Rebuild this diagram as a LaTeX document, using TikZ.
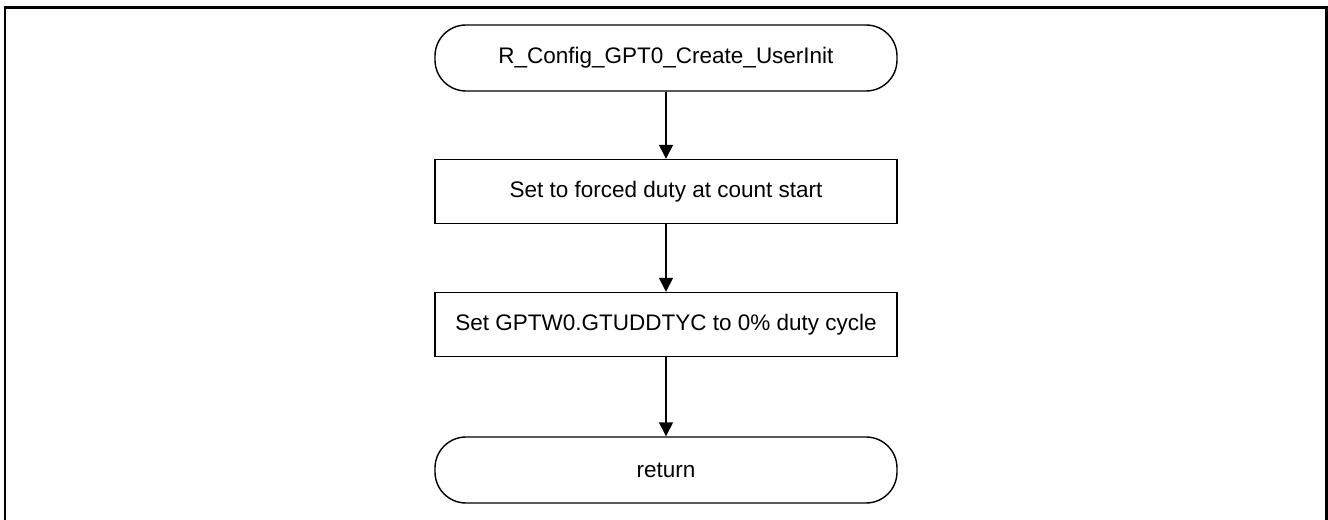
\documentclass[tikz,border=0pt]{standalone}
\usepackage{fontspec}
\setmainfont{Liberation Sans}
\usetikzlibrary{arrows.meta, shapes, positioning}

\begin{document}
\begin{tikzpicture}[
  term/.style={rectangle, rounded corners=0.62cm, draw=black, line width=0.8pt,
              minimum width=9.24cm, minimum height=1.32cm, align=center,
              font=\fontsize{12.8}{15}\selectfont},
  proc/.style={rectangle, draw=black, line width=0.8pt,
              minimum width=9.24cm, minimum height=1.28cm, align=center,
              font=\fontsize{12.8}{15}\selectfont},
  arrow/.style={-{Triangle[length=0.28cm, width=0.28cm]}, line width=0.8pt},
]
\useasboundingbox (0,0) rectangle (26.56,-10.4);
\draw[line width=1.2pt] (0.1,-10.4) |- (26.53,-0.15) -- (26.53,-10.4);
\node[term] (start)  at (13.32, -1.16) {R\_Config\_GPT0\_Create\_UserInit};
\node[proc] (forced) at (13.32, -3.83) {Set to forced duty at count start};
\node[proc] (duty)   at (13.32, -6.49) {Set GPTW0.GTUDDTYC to 0\% duty cycle};
\node[term] (ret)    at (13.32, -9.40) {return};
\draw[arrow] (start)  -- (forced);
\draw[arrow] (forced) -- (duty);
\draw[arrow] (duty)   -- (ret);
\end{tikzpicture}
\end{document}
